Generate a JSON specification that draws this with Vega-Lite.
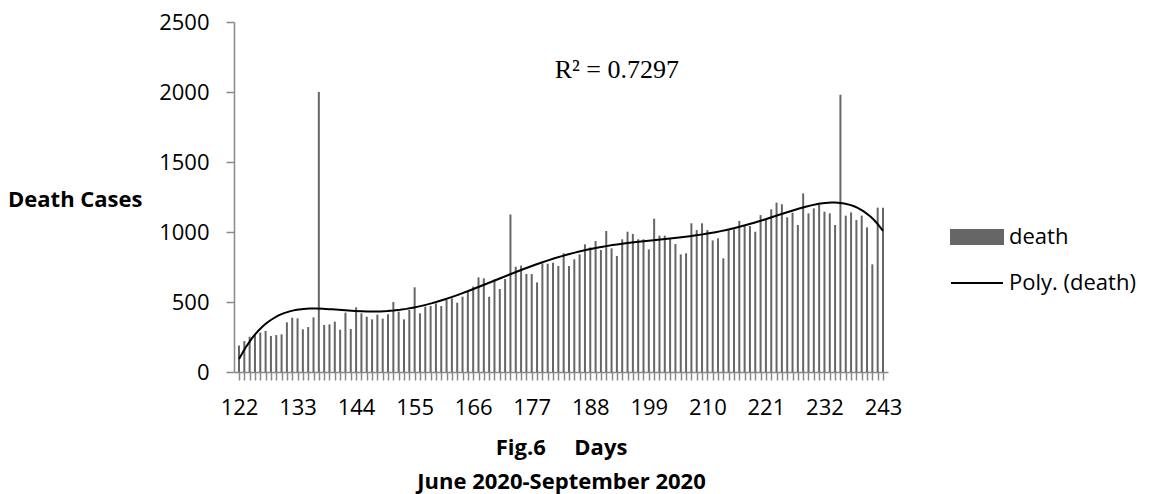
{
  "$schema": "https://vega.github.io/schema/vega-lite/v6.json",
  "autosize": "none",
  "width": 654,
  "height": 350,
  "padding": {"left": 234, "top": 22, "right": 263, "bottom": 122},
  "background": "white",
  "config": {
    "view": {"stroke": null},
    "font": "Open Sans",
    "axisX": {
      "grid": false,
      "domainColor": "#898989",
      "domainWidth": 1.5,
      "tickColor": "#898989",
      "tickWidth": 1.5,
      "tickSize": 8,
      "labelFont": "Open Sans",
      "labelFontSize": 22,
      "labelColor": "#000000",
      "labelPadding": 17,
      "titleFont": "Open Sans",
      "titleFontSize": 22,
      "titleFontWeight": "bold",
      "titleColor": "#000000",
      "titleLineHeight": 34,
      "titlePadding": 19
    },
    "axisY": {
      "grid": false,
      "domainColor": "#898989",
      "domainWidth": 1.5,
      "tickColor": "#898989",
      "tickWidth": 1.5,
      "tickSize": 8,
      "labelFont": "Open Sans",
      "labelFontSize": 22,
      "labelColor": "#000000",
      "labelPadding": 17,
      "titleFont": "Open Sans",
      "titleFontSize": 22,
      "titleFontWeight": "bold",
      "titleColor": "#000000"
    }
  },
  "datasets": {
    "deaths": [
      {"day": 122, "death": 190}, {"day": 123, "death": 221}, {"day": 124, "death": 252}, {"day": 125, "death": 265},
      {"day": 126, "death": 281}, {"day": 127, "death": 293}, {"day": 128, "death": 257}, {"day": 129, "death": 264},
      {"day": 130, "death": 269}, {"day": 131, "death": 355}, {"day": 132, "death": 388}, {"day": 133, "death": 383},
      {"day": 134, "death": 305}, {"day": 135, "death": 321}, {"day": 136, "death": 390}, {"day": 137, "death": 2000},
      {"day": 138, "death": 336}, {"day": 139, "death": 340}, {"day": 140, "death": 360}, {"day": 141, "death": 302},
      {"day": 142, "death": 424}, {"day": 143, "death": 307}, {"day": 144, "death": 462}, {"day": 145, "death": 419},
      {"day": 146, "death": 395}, {"day": 147, "death": 376}, {"day": 148, "death": 410}, {"day": 149, "death": 381},
      {"day": 150, "death": 412}, {"day": 151, "death": 500}, {"day": 152, "death": 431}, {"day": 153, "death": 376},
      {"day": 154, "death": 443}, {"day": 155, "death": 605}, {"day": 156, "death": 419}, {"day": 157, "death": 467},
      {"day": 158, "death": 471}, {"day": 159, "death": 490}, {"day": 160, "death": 471}, {"day": 161, "death": 514},
      {"day": 162, "death": 526}, {"day": 163, "death": 495}, {"day": 164, "death": 538}, {"day": 165, "death": 574},
      {"day": 166, "death": 610}, {"day": 167, "death": 676}, {"day": 168, "death": 669}, {"day": 169, "death": 538},
      {"day": 170, "death": 662}, {"day": 171, "death": 593}, {"day": 172, "death": 664}, {"day": 173, "death": 1125},
      {"day": 174, "death": 752}, {"day": 175, "death": 760}, {"day": 176, "death": 700}, {"day": 177, "death": 700},
      {"day": 178, "death": 640}, {"day": 179, "death": 776}, {"day": 180, "death": 773}, {"day": 181, "death": 780},
      {"day": 182, "death": 757}, {"day": 183, "death": 848}, {"day": 184, "death": 757}, {"day": 185, "death": 805},
      {"day": 186, "death": 840}, {"day": 187, "death": 912}, {"day": 188, "death": 890}, {"day": 189, "death": 936},
      {"day": 190, "death": 871}, {"day": 191, "death": 1007}, {"day": 192, "death": 883}, {"day": 193, "death": 829},
      {"day": 194, "death": 948}, {"day": 195, "death": 1002}, {"day": 196, "death": 986}, {"day": 197, "death": 948},
      {"day": 198, "death": 948}, {"day": 199, "death": 876}, {"day": 200, "death": 1095}, {"day": 201, "death": 974},
      {"day": 202, "death": 974}, {"day": 203, "death": 950}, {"day": 204, "death": 914}, {"day": 205, "death": 840},
      {"day": 206, "death": 848}, {"day": 207, "death": 1062}, {"day": 208, "death": 1014}, {"day": 209, "death": 1062},
      {"day": 210, "death": 1014}, {"day": 211, "death": 940}, {"day": 212, "death": 955}, {"day": 213, "death": 812},
      {"day": 214, "death": 1014}, {"day": 215, "death": 1019}, {"day": 216, "death": 1079}, {"day": 217, "death": 1043},
      {"day": 218, "death": 1043}, {"day": 219, "death": 1002}, {"day": 220, "death": 1121}, {"day": 221, "death": 1093},
      {"day": 222, "death": 1162}, {"day": 223, "death": 1210}, {"day": 224, "death": 1198}, {"day": 225, "death": 1105},
      {"day": 226, "death": 1138}, {"day": 227, "death": 1050}, {"day": 228, "death": 1276}, {"day": 229, "death": 1133},
      {"day": 230, "death": 1169}, {"day": 231, "death": 1198}, {"day": 232, "death": 1145}, {"day": 233, "death": 1133},
      {"day": 234, "death": 1050}, {"day": 235, "death": 1980}, {"day": 236, "death": 1117}, {"day": 237, "death": 1140},
      {"day": 238, "death": 1086}, {"day": 239, "death": 1117}, {"day": 240, "death": 1033}, {"day": 241, "death": 769},
      {"day": 242, "death": 1174}, {"day": 243, "death": 1174}
    ],
    "note": [{"label": "R² = 0.7297", "day": 193, "death": 2100}]
  },
  "layer": [
    {
      "data": {"name": "deaths"},
      "mark": {"type": "bar", "size": 2},
      "encoding": {
        "x": {
          "field": "day",
          "type": "quantitative",
          "scale": {"domain": [122, 243], "nice": false, "zero": false},
          "axis": {
            "tickCount": 121,
            "labelExpr": "(datum.value - 122) % 11 === 0 ? datum.label : ''",
            "labelOverlap": false,
            "labelFlush": false,
            "title": ["Fig.6\u00a0\u00a0\u00a0\u00a0\u00a0Days", "June 2020-September 2020"]
          }
        },
        "y": {
          "field": "death",
          "type": "quantitative",
          "scale": {"domain": [0, 2500], "nice": false},
          "axis": {
            "values": [0, 500, 1000, 1500, 2000, 2500],
            "format": "d",
            "title": "Death Cases",
            "titleAngle": 0,
            "titleAlign": "right",
            "titleBaseline": "alphabetic",
            "titleX": -92,
            "titleY": 184
          }
        },
        "color": {
          "datum": "death",
          "scale": {"domain": ["death", "Poly. (death)"], "range": ["#666666", "#000000"]},
          "legend": {
            "title": null,
            "orient": "none",
            "legendX": 716,
            "legendY": 188,
            "padding": 0,
            "symbolSize": 2704,
            "symbolStrokeWidth": 2,
            "rowPadding": 7,
            "labelOffset": 5,
            "labelFont": "Open Sans",
            "labelFontSize": 22,
            "labelColor": "#000000",
            "labelLimit": 300,
            "encode": {
              "symbols": {
                "update": {
                  "shape": {"signal": "datum.label === 'death' ? 'M-1,-0.27H1V0.27H-1Z' : 'M-1,0H1'"},
                  "fill": {"signal": "datum.label === 'death' ? '#666666' : 'transparent'"},
                  "stroke": {"signal": "datum.label === 'death' ? 'transparent' : '#000000'"},
                  "strokeWidth": {"value": 2},
                  "opacity": {"value": 1}
                }
              }
            }
          }
        }
      }
    },
    {
      "data": {"name": "deaths"},
      "transform": [
        {"regression": "death", "on": "day", "method": "poly", "order": 6}
      ],
      "mark": {"type": "line", "strokeWidth": 2},
      "encoding": {
        "x": {"field": "day", "type": "quantitative"},
        "y": {"field": "death", "type": "quantitative"},
        "color": {"datum": "Poly. (death)"}
      }
    },
    {
      "data": {"name": "note"},
      "mark": {"type": "text", "font": "Liberation Serif", "fontSize": 26, "align": "center", "baseline": "alphabetic", "color": "#000000"},
      "encoding": {
        "x": {"field": "day", "type": "quantitative"},
        "y": {"field": "death", "type": "quantitative"},
        "text": {"field": "label"}
      }
    }
  ]
}
